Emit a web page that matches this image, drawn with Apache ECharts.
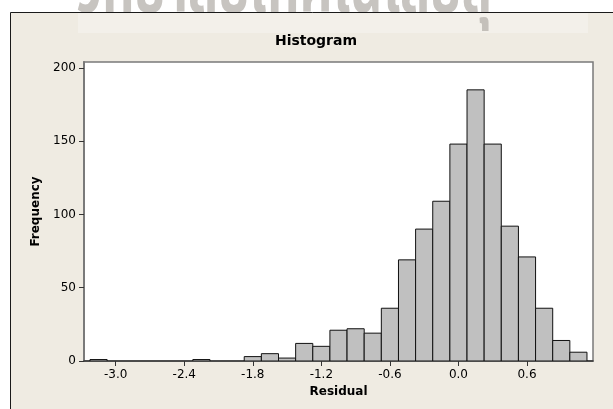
<!DOCTYPE html>
<html>
<head>
<meta charset="utf-8">
<script src="https://cdn.jsdelivr.net/npm/echarts@6/dist/echarts.min.js"></script>
<style>
html,body{margin:0;padding:0;background:#fff;}
#c{width:613px;height:409px;}
</style>
</head>
<body>
<div id="c"></div>
<script>
// Histogram of residuals: bin midpoints and frequencies
const binMidpoints = [-3.15, -3.0, -2.85, -2.7, -2.55, -2.4, -2.25, -2.1, -1.95, -1.8, -1.65, -1.5, -1.35, -1.2, -1.05, -0.9, -0.75, -0.6, -0.45, -0.3, -0.15, 0.0, 0.15, 0.3, 0.45, 0.6, 0.75, 0.9, 1.05];
const frequencies  = [1, 0, 0, 0, 0, 0, 1, 0, 0, 3, 5, 2, 12, 10, 21, 22, 19, 36, 69, 90, 109, 148, 185, 148, 92, 71, 36, 14, 6];
const binWidth = 0.15;
const xTicks = [-3.0, -2.4, -1.8, -1.2, -0.6, 0.0, 0.6];
const yTicks = [0, 50, 100, 150, 200];
const chartTitle = 'Histogram';
const xName = 'Residual';
const yName = 'Frequency';
const watermarkText = 'วิทยาลัยเทคโนโลยีสุ';

const FONT = '"DejaVu Sans", Verdana, sans-serif';
const chart = echarts.init(document.getElementById('c'), null, {renderer: 'canvas'});

const data = binMidpoints.map((m, i) => [m, frequencies[i]]);

chart.setOption({
  animation: false,
  backgroundColor: '#ffffff',
  graphic: {
    elements: [
      {type: 'rect', z: -30, silent: true,
        shape: {x: 10.5, y: 12.5, width: 700, height: 500},
        style: {fill: '#EFEBE2', stroke: null}},
      {type: 'rect', z: -29, silent: true,
        shape: {x: 78, y: 13, width: 510, height: 20},
        style: {fill: '#F3F0EA', stroke: null}},
      {type: 'text', z: -28, silent: true, x: 76, y: 33, scaleX: 1.15, scaleY: 1.6,
        style: {text: watermarkText, font: 'bold 44px "Noto Sans Thai", "Noto Sans", sans-serif',
          fill: 'rgba(175,171,165,0.7)', textAlign: 'left', textVerticalAlign: 'bottom'}},
      {type: 'rect', z: -27, silent: true,
        shape: {x: 10.5, y: 12.5, width: 700, height: 500},
        style: {fill: null, stroke: '#1a1a1a', lineWidth: 1}},
      {type: 'text', z: 10, x: 316, y: 41,
        style: {text: chartTitle, font: 'bold 14px ' + FONT, fill: '#000',
          textAlign: 'center', textVerticalAlign: 'middle'}}
    ]
  },
  grid: {
    left: 84, right: 20, top: 62, bottom: 48,
    show: true, backgroundColor: '#ffffff', borderColor: '#7a7a7a', borderWidth: 1.5,
    containLabel: false
  },
  xAxis: {
    type: 'value',
    min: -3.2775, max: 1.1777,
    name: xName, nameLocation: 'middle', nameGap: 25,
    nameTextStyle: {fontFamily: FONT, fontWeight: 'bold', fontSize: 12, color: '#000'},
    axisLine: {show: true, onZero: false, lineStyle: {color: '#333', width: 1.5}},
    axisTick: {show: true, length: 5, customValues: xTicks, lineStyle: {color: '#333'}},
    axisLabel: {customValues: xTicks, formatter: v => v.toFixed(1), fontFamily: FONT, fontSize: 12, color: '#000', margin: 8},
    splitLine: {show: false}
  },
  yAxis: {
    type: 'value',
    min: 0, max: 204,
    name: yName, nameLocation: 'middle', nameGap: 40, nameRotate: 90,
    nameTextStyle: {fontFamily: FONT, fontWeight: 'bold', fontSize: 12, color: '#000'},
    axisLine: {show: true, onZero: false, lineStyle: {color: '#7a7a7a', width: 2}},
    axisTick: {show: true, length: 5, customValues: yTicks, lineStyle: {color: '#333'}},
    axisLabel: {customValues: yTicks, fontFamily: FONT, fontSize: 12, color: '#000', margin: 8},
    splitLine: {show: false}
  },
  series: [{
    type: 'custom',
    data: data,
    encode: {x: 0, y: 1},
    clip: true,
    renderItem: function (params, api) {
      const mid = api.value(0);
      const cnt = api.value(1);
      if (!cnt) return null;
      const p0 = api.coord([mid - binWidth / 2, cnt]);
      const p1 = api.coord([mid + binWidth / 2, 0]);
      return {
        type: 'rect',
        shape: {x: p0[0], y: p0[1], width: p1[0] - p0[0], height: p1[1] - p0[1]},
        style: {fill: '#C0C0C0', stroke: '#111', lineWidth: 1}
      };
    }
  }]
});
</script>
</body>
</html>
